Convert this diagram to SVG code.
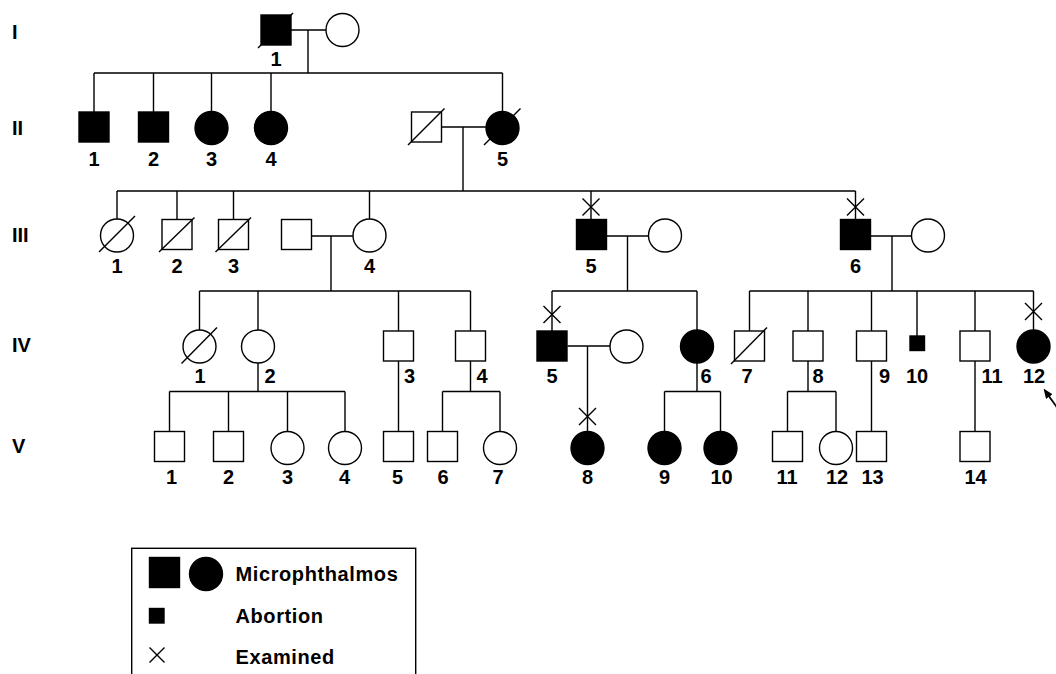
<svg xmlns="http://www.w3.org/2000/svg" width="1056" height="674" viewBox="0 0 1056 674">
<defs>
<style>
.ln{stroke:#000;stroke-width:1.4;fill:none}
.o{stroke:#000;stroke-width:1.4;fill:#fff}
.a{stroke:#000;stroke-width:1.4;fill:#000}
.t{font-family:"Liberation Sans",Arial,sans-serif;font-weight:bold;font-size:20px;fill:#000;text-anchor:middle}
.g{font-family:"Liberation Sans",Arial,sans-serif;font-weight:bold;font-size:20px;fill:#000}
.lg{font-family:"Liberation Sans",Arial,sans-serif;font-weight:bold;font-size:20px;letter-spacing:0.6px;fill:#000}
</style>
<marker id="ah" viewBox="0 0 10 8" refX="4" refY="4" markerWidth="10" markerHeight="8" markerUnits="userSpaceOnUse" orient="auto"><path d="M0,0 L10,4 L0,8 z" fill="#000"/></marker>
</defs>
<rect width="1056" height="674" fill="#fff"/>

<g id="generation-labels">
<text class="g" x="12" y="39">I</text>
<text class="g" x="12" y="135">II</text>
<text class="g" x="12" y="242">III</text>
<text class="g" x="12" y="352">IV</text>
<text class="g" x="12" y="453">V</text>
</g>

<g id="connectors">
<path class="ln" d="M291,30 H326 M308,30 V73 M94,73 H502.5 M94,73 V112 M153.5,73 V112 M211.5,73 V111.5 M271,73 V111.5 M502.5,73 V111.5"/>
<path class="ln" d="M441.5,127 H486 M463,127 V191 M117,191 H855.5 M117,191 V219 M177,191 V219.5 M233.5,191 V219.5 M369.5,191 V219 M591,191 V219.5 M855.5,191 V219.5"/>
<path class="ln" d="M311.5,236 H353 M331,236 V291 M199.5,291 H470.5 M199.5,291 V330 M258,291 V330 M398.5,291 V331 M470.5,291 V331"/>
<path class="ln" d="M606.5,236 H648.5 M627.5,236 V291 M552,291 H697 M552,291 V331 M697,291 V330"/>
<path class="ln" d="M870.5,236 H911.5 M892,236 V291 M749.5,291 H1033.5 M749.5,291 V331 M808,291 V331 M871.5,291 V331 M917,291 V336 M975,291 V331 M1033.5,291 V330"/>
<path class="ln" d="M258,363 V391.5 M169.5,391.5 H345 M169.5,391.5 V431.5 M228.5,391.5 V431.5 M287.5,391.5 V431.5 M345,391.5 V431.5"/>
<path class="ln" d="M398.5,361 V431.5 M470.5,361 V391.5 M442.5,391.5 H500 M442.5,391.5 V431.5 M500,391.5 V431.5"/>
<path class="ln" d="M567.5,346 H610 M587.5,346 V431.5"/>
<path class="ln" d="M697,363 V391.5 M664.5,391.5 H720.5 M664.5,391.5 V431.5 M720.5,391.5 V431.5"/>
<path class="ln" d="M808,361 V391.5 M787.5,391.5 H836 M787.5,391.5 V431.5 M836,391.5 V431.5"/>
<path class="ln" d="M871.5,361 V431.5 M975,361 V431.5"/>
<path class="ln" d="M582.5,198.5 L599.5,215.5 M599.5,198.5 L582.5,215.5"/>
<path class="ln" d="M847,198.5 L864,215.5 M864,198.5 L847,215.5"/>
<path class="ln" d="M543.5,306 L560.5,323 M560.5,306 L543.5,323"/>
<path class="ln" d="M1025,303 L1042,320 M1042,303 L1025,320"/>
<path class="ln" d="M579,408 L596,425 M596,408 L579,425"/>
<line x1="1060" y1="411.6" x2="1047" y2="393.4" stroke="#000" stroke-width="1.8" marker-end="url(#ah)"/>
</g>

<g id="I-1"><rect class="a" x="261" y="15" width="30" height="30"/><line class="ln" x1="258" y1="48" x2="293" y2="13"/><text class="t" x="276" y="66">1</text></g>
<g id="I-2"><circle class="o" cx="342.5" cy="30" r="16.5"/></g>

<g id="II-1"><rect class="a" x="79" y="112" width="30" height="30"/><text class="t" x="94" y="165.5">1</text></g>
<g id="II-2"><rect class="a" x="138.5" y="112" width="30" height="30"/><text class="t" x="153.5" y="165.5">2</text></g>
<g id="II-3"><circle class="a" cx="211.5" cy="128" r="16.5"/><text class="t" x="211.5" y="165.5">3</text></g>
<g id="II-4"><circle class="a" cx="271" cy="128" r="16.5"/><text class="t" x="271" y="165.5">4</text></g>
<g id="II-5-spouse"><rect class="o" x="411.5" y="112" width="30" height="30"/><line class="ln" x1="408" y1="145" x2="444.5" y2="108.5"/></g>
<g id="II-5"><circle class="a" cx="502.5" cy="128" r="16.5"/><line class="ln" x1="484" y1="145" x2="520.5" y2="108.5"/><text class="t" x="502.5" y="165.5">5</text></g>

<g id="III-1"><circle class="o" cx="117" cy="235.5" r="16.5"/><line class="ln" x1="99" y1="252" x2="135" y2="216"/><text class="t" x="117" y="273">1</text></g>
<g id="III-2"><rect class="o" x="162" y="219.5" width="30" height="30"/><line class="ln" x1="159" y1="252" x2="194.5" y2="217.5"/><text class="t" x="177" y="273">2</text></g>
<g id="III-3"><rect class="o" x="218.5" y="219.5" width="30" height="30"/><line class="ln" x1="215.5" y1="252" x2="251" y2="217.5"/><text class="t" x="233.5" y="273">3</text></g>
<g id="III-4-spouse"><rect class="o" x="281.5" y="219.5" width="30" height="30"/></g>
<g id="III-4"><circle class="o" cx="369.5" cy="235.5" r="16.5"/><text class="t" x="369.5" y="273">4</text></g>
<g id="III-5"><rect class="a" x="576.5" y="219.5" width="30" height="30"/><text class="t" x="591" y="273">5</text></g>
<g id="III-5-spouse"><circle class="o" cx="665" cy="235.5" r="16.5"/></g>
<g id="III-6"><rect class="a" x="840.5" y="219.5" width="30" height="30"/><text class="t" x="855.5" y="273">6</text></g>
<g id="III-6-spouse"><circle class="o" cx="928" cy="235.5" r="16.5"/></g>

<g id="IV-1"><circle class="o" cx="199.5" cy="346.5" r="16.5"/><line class="ln" x1="181.5" y1="363.5" x2="217" y2="327.5"/><text class="t" x="200" y="383">1</text></g>
<g id="IV-2"><circle class="o" cx="258" cy="346.5" r="16.5"/><text class="t" x="270" y="383">2</text></g>
<g id="IV-3"><rect class="o" x="383.5" y="331" width="30" height="30"/><text class="t" x="409.5" y="383">3</text></g>
<g id="IV-4"><rect class="o" x="455.5" y="331" width="30" height="30"/><text class="t" x="482" y="383">4</text></g>
<g id="IV-5"><rect class="a" x="537" y="331" width="30" height="30"/><text class="t" x="552" y="383">5</text></g>
<g id="IV-5-spouse"><circle class="o" cx="626.5" cy="346.5" r="16.5"/></g>
<g id="IV-6"><circle class="a" cx="697" cy="346.5" r="16.5"/><text class="t" x="706" y="383">6</text></g>
<g id="IV-7"><rect class="o" x="734.5" y="331" width="30" height="30"/><line class="ln" x1="731" y1="364" x2="767" y2="327.5"/><text class="t" x="747" y="383">7</text></g>
<g id="IV-8"><rect class="o" x="793" y="331" width="30" height="30"/><text class="t" x="818" y="383">8</text></g>
<g id="IV-9"><rect class="o" x="856.5" y="331" width="30" height="30"/><text class="t" x="884.5" y="383">9</text></g>
<g id="IV-10"><rect class="a" x="910" y="336" width="14.5" height="14.5"/><text class="t" x="917" y="383">10</text></g>
<g id="IV-11"><rect class="o" x="960" y="331" width="30" height="30"/><text class="t" x="992" y="383">11</text></g>
<g id="IV-12"><circle class="a" cx="1033.5" cy="346.5" r="16.5"/><text class="t" x="1034" y="383">12</text></g>

<g id="V-1"><rect class="o" x="154.5" y="431.5" width="30" height="30"/><text class="t" x="171.5" y="484">1</text></g>
<g id="V-2"><rect class="o" x="213.5" y="431.5" width="30" height="30"/><text class="t" x="228.5" y="484">2</text></g>
<g id="V-3"><circle class="o" cx="287.5" cy="448" r="16.5"/><text class="t" x="287.5" y="484">3</text></g>
<g id="V-4"><circle class="o" cx="345" cy="448" r="16.5"/><text class="t" x="344.5" y="484">4</text></g>
<g id="V-5"><rect class="o" x="383.5" y="431.5" width="30" height="30"/><text class="t" x="397.5" y="484">5</text></g>
<g id="V-6"><rect class="o" x="427.5" y="431.5" width="30" height="30"/><text class="t" x="443" y="484">6</text></g>
<g id="V-7"><circle class="o" cx="500" cy="448" r="16.5"/><text class="t" x="498" y="484">7</text></g>
<g id="V-8"><circle class="a" cx="587.5" cy="448" r="16.5"/><text class="t" x="587.5" y="484">8</text></g>
<g id="V-9"><circle class="a" cx="664.5" cy="448" r="16.5"/><text class="t" x="664.5" y="484">9</text></g>
<g id="V-10"><circle class="a" cx="720.5" cy="448" r="16.5"/><text class="t" x="721.5" y="484">10</text></g>
<g id="V-11"><rect class="o" x="772.5" y="431.5" width="30" height="30"/><text class="t" x="787" y="484">11</text></g>
<g id="V-12"><circle class="o" cx="836" cy="448" r="16.5"/><text class="t" x="837" y="484">12</text></g>
<g id="V-13"><rect class="o" x="856.5" y="431.5" width="30" height="30"/><text class="t" x="872.5" y="484">13</text></g>
<g id="V-14"><rect class="o" x="960" y="431.5" width="30" height="30"/><text class="t" x="975.5" y="484">14</text></g>

<g id="legend">
<rect class="ln" x="131.7" y="548.3" width="284" height="140"/>
<rect class="a" x="149.5" y="557.5" width="30" height="30"/>
<circle class="a" cx="206" cy="574" r="16.5"/>
<text class="lg" x="235.5" y="581">Microphthalmos</text>
<rect class="a" x="149.5" y="608.5" width="14.5" height="14.5"/>
<text class="lg" x="235.5" y="623">Abortion</text>
<path class="ln" d="M149.5,647.5 L164.5,662.5 M164.5,647.5 L149.5,662.5"/>
<text class="lg" x="235.5" y="664">Examined</text>
</g>
</svg>
